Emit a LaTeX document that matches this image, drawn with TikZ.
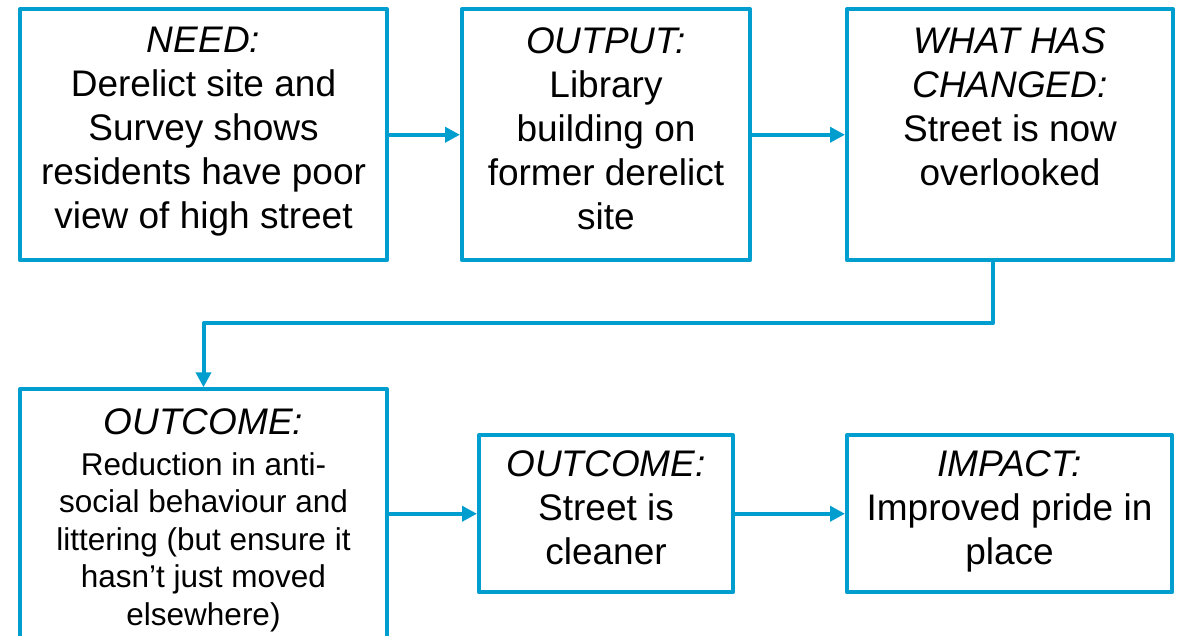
\documentclass[tikz,border=0pt]{standalone}
\usepackage{fontspec}
\setmainfont{Liberation Sans}
\usetikzlibrary{positioning,arrows.meta}
\definecolor{linkblue}{HTML}{009DCF}
\newcommand{\bodysize}{\fontsize{31.5}{37.5}\selectfont}
\newcommand{\headsize}{\fontsize{37}{44}\selectfont}

\begin{document}
\begin{tikzpicture}[->,>={Triangle[length=15pt,width=15pt]},x=1pt,y=1pt,
  color=linkblue,line width=4pt,line join=round,
  box node/.style={rectangle,draw,text=black,align=center,inner sep=0pt,font=\headsize},
  top node/.style={box node,minimum height=251pt},
  low node/.style={box node,minimum height=157pt}]

  \useasboundingbox (0,0) rectangle (1183,-636);
  \clip (0,0) rectangle (1183,-636);

  \node[top node,minimum width=367pt] (need) at (203.5,-134.75)
    {\textit{NEED:}\\Derelict site and\\Survey shows\\residents have poor\\view of high street\strut};
  \node[top node,minimum width=288pt] (output) [right=71pt of need]
    {\textit{OUTPUT:}\\Library\\building on\\former derelict\\site\strut};
  \node[top node,minimum width=326pt] (changed) [right=93pt of output]
    {\textit{WHAT HAS}\\\textit{CHANGED:}\\Street is now\\overlooked\\\strut};
  \node[box node,minimum width=367pt,minimum height=266pt,font=\bodysize] (outcomeA) [below=125pt of need]
    {{\headsize\itshape OUTCOME:}\\[3.5pt]\bodysize Reduction in anti-\\\bodysize social behaviour and\\\bodysize littering (but ensure it\\\bodysize hasn’t just moved\\\bodysize elsewhere)\strut};
  \node[low node,minimum width=254pt] (outcomeB) [below=171pt of output]
    {\textit{OUTCOME:}\\Street is\\cleaner\strut};
  \node[low node,minimum width=325pt] (impact) [right=110pt of outcomeB]
    {\textit{IMPACT:}\\Improved pride in\\place\strut};

  \path
    (need) edge (output)
    (output) edge (changed)
    (outcomeA.east |- outcomeB) edge (outcomeB)
    (outcomeB) edge (impact);
  \draw ([xshift=-17pt]changed.south) -- ++(0,-61) -| (outcomeA.north);
\end{tikzpicture}
\end{document}
